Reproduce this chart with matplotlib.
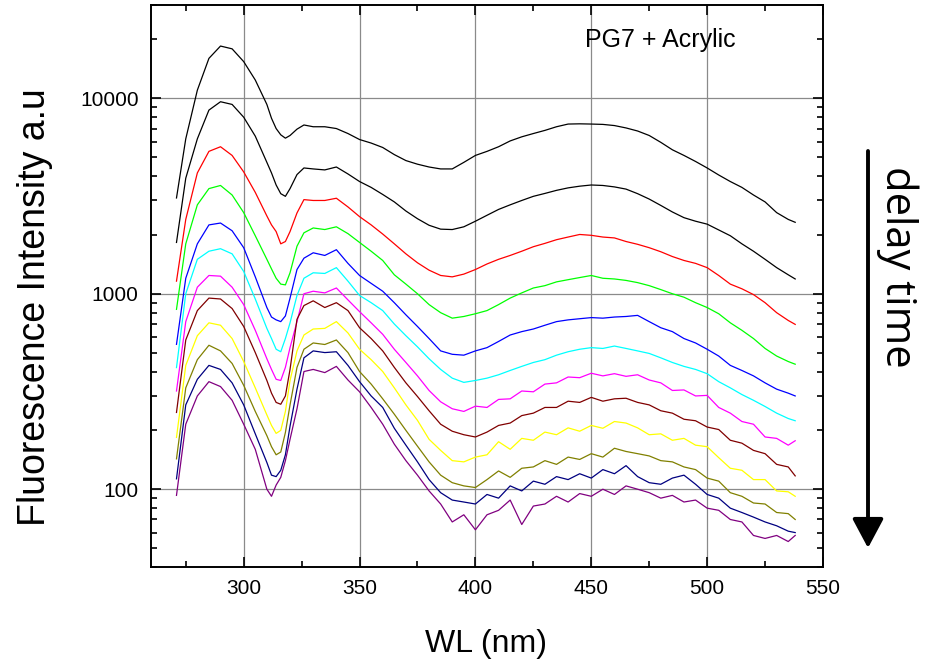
import matplotlib
matplotlib.use("Agg")
import matplotlib.pyplot as plt
from matplotlib.ticker import MultipleLocator, LogLocator, FuncFormatter, NullFormatter

plt.rcParams["font.family"] = ["Liberation Sans", "DejaVu Sans"]

# Emission wavelength grid (nm)
wavelength = [271, 275, 280, 285, 290, 295, 300, 305,
              310, 312, 314, 316, 318, 320, 323, 326,
              330, 335, 340, 345, 350, 355, 360, 365, 370, 375,
              380, 385, 390, 395, 400, 405, 410, 415, 420, 425,
              430, 435, 440, 445, 450, 455, 460, 465, 470, 475,
              480, 485, 490, 495, 500, 505, 510, 515, 520, 525,
              530, 535, 538]

# Fluorescence intensity (a.u.) for successive gate delays, shortest first
delay_01 = [3090, 6200, 11000, 16000, 18500, 17900, 15400, 12400,
            9300, 7900, 7000, 6500, 6250, 6450, 6950, 7300,
            7150, 7150, 7000, 6600, 6150, 5900, 5600, 5150, 4800, 4600,
            4450, 4350, 4350, 4700, 5100, 5350, 5650, 6050, 6350, 6600,
            6850, 7150, 7380, 7400, 7380, 7350, 7250, 7050, 6800, 6450,
            5950, 5450, 5100, 4750, 4400, 4050, 3750, 3500, 3200, 2950,
            2600, 2400, 2320]
delay_02 = [1830, 3900, 6200, 8700, 9600, 9300, 8000, 6400,
            4700, 4150, 3600, 3250, 3150, 3450, 4070, 4400,
            4350, 4300, 4450, 4100, 3750, 3500, 3220, 2950, 2650, 2420,
            2240, 2140, 2130, 2200, 2350, 2520, 2700, 2850, 3000, 3150,
            3260, 3380, 3480, 3550, 3600, 3580, 3520, 3430, 3250, 3050,
            2830, 2620, 2450, 2350, 2270, 2120, 1980, 1800, 1650, 1500,
            1360, 1250, 1190]
delay_03 = [1160, 2400, 4150, 5350, 5650, 5100, 4200, 3300,
            2500, 2250, 2080, 1800, 1850, 2080, 2590, 3030,
            3000, 3000, 3080, 2780, 2480, 2250, 2020, 1800, 1600, 1440,
            1320, 1240, 1220, 1260, 1330, 1420, 1500, 1570, 1650, 1740,
            1810, 1890, 1950, 2010, 1990, 1950, 1930, 1850, 1790, 1720,
            1640, 1550, 1480, 1430, 1360, 1240, 1120, 1060, 990, 900,
            800, 730, 697]
delay_04 = [832, 1800, 2850, 3450, 3580, 3200, 2600, 1980,
            1500, 1340, 1200, 1120, 1110, 1280, 1750, 2050,
            2170, 2130, 2200, 2030, 1830, 1650, 1480, 1250, 1120, 1000,
            880, 800, 750, 765, 790, 820, 880, 950, 1010, 1070,
            1100, 1150, 1180, 1210, 1240, 1200, 1190, 1170, 1140, 1100,
            1050, 1000, 960, 900, 850, 790, 710, 650, 590, 525,
            480, 450, 436]
delay_05 = [551, 1200, 1800, 2250, 2300, 2100, 1720, 1220,
            850, 760, 735, 720, 770, 950, 1330, 1520,
            1620, 1570, 1680, 1430, 1240, 1130, 1030, 900, 780, 680,
            590, 510, 490, 485, 510, 530, 570, 615, 640, 660,
            690, 720, 735, 745, 755, 750, 760, 765, 775, 720,
            670, 640, 590, 560, 520, 480, 430, 405, 380, 350,
            325, 310, 300]
delay_06 = [419, 1000, 1500, 1650, 1700, 1600, 1300, 940,
            665, 590, 520, 505, 590, 710, 980, 1200,
            1280, 1270, 1360, 1160, 980, 900, 820, 700, 610, 535,
            465, 410, 370, 352, 360, 370, 385, 405, 425, 445,
            460, 485, 505, 520, 530, 525, 540, 525, 510, 495,
            470, 445, 425, 410, 390, 355, 330, 305, 285, 265,
            245, 230, 224]
delay_07 = [318, 720, 1080, 1240, 1230, 1080, 880, 650,
            465, 410, 365, 360, 420, 530, 720, 1000,
            1030, 1010, 1070, 930, 810, 710, 620, 520, 445, 380,
            320, 280, 258, 250, 266, 262, 288, 290, 318, 315,
            345, 350, 375, 372, 392, 380, 390, 378, 385, 362,
            350, 320, 322, 300, 302, 262, 245, 222, 215, 185,
            182, 168, 177]
delay_08 = [247, 580, 820, 950, 940, 840, 680, 500,
            360, 310, 278, 272, 300, 410, 740, 870,
            920, 850, 900, 820, 670, 590, 510, 420, 350, 298,
            252, 215, 198, 190, 185, 196, 212, 218, 238, 245,
            262, 262, 282, 278, 295, 282, 290, 292, 278, 270,
            252, 245, 228, 224, 208, 202, 178, 172, 158, 152,
            134, 130, 117]
delay_09 = [184, 430, 610, 710, 690, 590, 450, 330,
            240, 212, 193, 200, 250, 360, 510, 615,
            660, 665, 720, 630, 520, 460, 400, 330, 270, 225,
            180, 158, 140, 138, 146, 150, 175, 160, 182, 178,
            196, 190, 206, 198, 212, 205, 222, 218, 206, 190,
            192, 178, 182, 168, 165, 145, 128, 125, 112, 112,
            98, 97, 92]
delay_10 = [143, 330, 460, 545, 510, 440, 340, 250,
            188, 165, 150, 155, 195, 270, 420, 520,
            560, 550, 580, 500, 400, 345, 290, 242, 200, 166,
            138, 118, 108, 104, 102, 112, 124, 115, 128, 130,
            140, 134, 146, 142, 152, 146, 162, 156, 152, 148,
            140, 138, 130, 126, 114, 110, 96, 92, 85, 84,
            76, 75, 70]
delay_11 = [113, 270, 365, 430, 410, 350, 270, 192,
            137, 118, 116, 125, 150, 210, 325, 470,
            510, 500, 505, 430, 355, 300, 262, 205, 168, 138,
            112, 96, 88, 86, 84, 94, 90, 104, 98, 110,
            106, 116, 112, 120, 114, 126, 120, 132, 116, 108,
            106, 114, 118, 106, 94, 90, 80, 76, 72, 68,
            65, 61, 60]
delay_12 = [93, 215, 300, 355, 335, 285, 215, 160,
            100, 92, 105, 115, 140, 180, 258, 400,
            410, 395, 425, 362, 315, 262, 215, 170, 140, 118,
            98, 84, 68, 74, 62, 74, 78, 88, 66, 82,
            84, 92, 86, 95, 92, 100, 94, 104, 100, 96,
            90, 93, 86, 88, 80, 78, 70, 68, 58, 56,
            58, 54, 58]

spectra = [delay_01, delay_02, delay_03, delay_04, delay_05, delay_06,
           delay_07, delay_08, delay_09, delay_10, delay_11, delay_12]
line_colors = ["#000000", "#000000", "#ff0000", "#00ff00", "#0000ff", "#00ffff",
               "#ff00ff", "#800000", "#ffff00", "#808000", "#000080", "#800080"]

x_ticks = [300, 350, 400, 450, 500, 550]

W, H = 925, 661
fig = plt.figure(figsize=(W / 100, H / 100), dpi=100)
ax = fig.add_axes([151 / W, 1 - 567 / H, (823 - 151) / W, (567 - 5) / H])

for values, color in zip(spectra, line_colors):
    ax.plot(wavelength, values, color=color, lw=0.9)

ax.set_yscale("log")
ax.set_xlim(260, 550)
ax.set_ylim(40, 30000)

ax.xaxis.set_major_locator(MultipleLocator(50))
ax.xaxis.set_minor_locator(MultipleLocator(25))
ax.set_xticks(x_ticks)
ax.yaxis.set_major_locator(LogLocator(base=10))
ax.yaxis.set_minor_locator(LogLocator(base=10, subs=range(2, 10)))
ax.yaxis.set_major_formatter(FuncFormatter(lambda v, p: f"{int(round(v))}"))
ax.yaxis.set_minor_formatter(NullFormatter())

ax.grid(True, which="major", color="#8a8a8a", lw=0.9)
ax.set_axisbelow(True)

for side in ax.spines.values():
    side.set_linewidth(1.4)
ax.tick_params(which="both", direction="in", top=True, right=True,
               width=1.2, labelsize=15)
ax.tick_params(which="major", length=7)
ax.tick_params(which="minor", length=4)
ax.tick_params(axis="x", pad=9)
ax.tick_params(axis="y", pad=9)

fig.text(486 / W, 1 - 652 / H, "WL (nm)", fontsize=23, ha="center", va="baseline")
fig.text(45 / W, 1 - 307.5 / H, "Fluorescence Intensity a.u", fontsize=27,
         rotation=90, rotation_mode="anchor", ha="center", va="baseline")
fig.text(660 / W, 1 - 47 / H, "PG7 + Acrylic", fontsize=18, ha="center", va="baseline")

# delay-time direction arrow and label
ax.annotate("", xy=(868, H - 548), xytext=(868, H - 151),
            xycoords="figure pixels", textcoords="figure pixels",
            arrowprops=dict(arrowstyle="-|>,head_length=0.9,head_width=0.48",
                            lw=2.8, color="black", mutation_scale=20,
                            shrinkA=0, shrinkB=0),
            annotation_clip=False)
fig.text(897 / W, 1 - 267 / H, "delay time", fontsize=30, rotation=-90,
         ha="center", va="center", family=["Open Sans", "DejaVu Sans"])

fig.savefig("out.png", dpi=100)
